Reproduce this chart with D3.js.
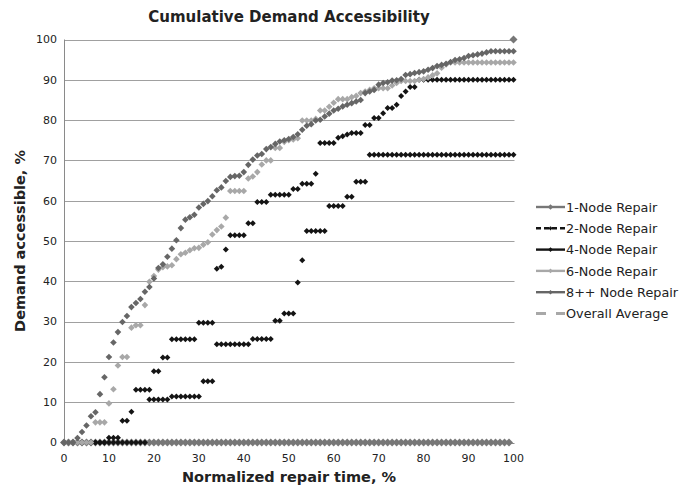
<!DOCTYPE html>
<html>
<head>
<meta charset="utf-8">
<script src="https://cdn.jsdelivr.net/npm/d3@7"></script>
<style>
  body { margin: 0; background: #fff; }
  svg { display: block; }
  text { font-family: "DejaVu Sans", Verdana, sans-serif; }
</style>
</head>
<body>
<svg id="chart" width="692" height="487"></svg>
<script>
// Normalized repair time, % (one sample per percent)
const repairTime = d3.range(0, 101);

// Demand accessible, % for each repair group
const nodeRepair1 = [
  0,0,0,0,0,0,0,0,0,0, 0,0,0,0,0,0,0,0,0,0,
  0,0,0,0,0,0,0,0,0,0, 0,0,0,0,0,0,0,0,0,0,
  0,0,0,0,0,0,0,0,0,0, 0,0,0,0,0,0,0,0,0,0,
  0,0,0,0,0,0,0,0,0,0, 0,0,0,0,0,0,0,0,0,0,
  0,0,0,0,0,0,0,0,0,0, 0,0,0,0,0,0,0,0,0,0,
  100
];

const nodeRepair2 = [
  0,0,0,0,0,0,0,0,0,0, 0,0,0,0,0,0,0,0,0,10.7,
  10.7,10.7,10.7,10.7,11.4,11.4,11.4,11.4,11.4,11.4,
  11.4,15.2,15.2,15.2,24.4,24.4,24.4,24.4,24.4,24.4,
  24.4,24.4,25.7,25.7,25.7,25.7,25.7,30.2,30.2,32.0,
  32.0,32.0,39.7,45.2,52.5,52.5,52.5,52.5,52.5,58.7,
  58.7,58.7,58.7,61.0,61.0,64.7,64.7,64.7,71.4,71.4,
  71.4,71.4,71.4,71.4,71.4,71.4,71.4,71.4,71.4,71.4,
  71.4,71.4,71.4,71.4,71.4,71.4,71.4,71.4,71.4,71.4,
  71.4,71.4,71.4,71.4,71.4,71.4,71.4,71.4,71.4,71.4,
  71.4
];

const nodeRepair4 = [
  0,0,0,0,0,0,0,0,0,0, 1.2,1.2,1.2,5.4,5.4,7.6,13.1,13.1,13.1,13.1,
  17.7,17.7,21.1,21.1,25.6,25.6,25.6,25.6,25.6,25.6,
  29.7,29.7,29.7,29.7,43.1,43.6,47.9,51.4,51.4,51.4,
  51.4,54.4,54.4,59.7,59.7,59.7,61.5,61.5,61.5,61.5,
  61.5,62.9,62.9,64.2,64.2,64.2,66.7,74.3,74.3,74.3,
  74.3,75.6,76.0,76.4,76.8,76.8,76.8,78.8,78.8,80.5,
  80.5,81.7,83.0,83.0,83.8,86.0,87.1,88.2,88.2,90.0,
  90.0,90.0,90.0,90.0,90.0,90.0,90.0,90.0,90.0,90.0,
  90.0,90.0,90.0,90.0,90.0,90.0,90.0,90.0,90.0,90.0,
  90.0
];

const nodeRepair6 = [
  0,0,0,0,0,0,0,5.0,5.0,5.0, 9.7,13.2,19.1,21.2,21.2,28.5,29.1,29.1,34.1,39.9,
  41.3,42.9,43.5,43.7,44.0,45.5,46.7,47.1,47.7,48.2,
  48.3,49.1,49.7,51.6,52.7,53.6,55.8,62.4,62.4,62.4,
  62.4,65.5,66.0,67.1,69.0,70.0,70.0,73.1,73.1,74.6,
  75.0,75.2,75.5,79.9,79.9,79.9,80.3,82.4,82.4,83.3,
  84.3,85.2,85.2,85.2,85.7,86.0,86.7,87.1,87.5,87.9,
  87.9,87.9,87.9,88.6,89.2,89.7,89.7,89.7,89.7,90.0,
  90.2,90.6,91.1,91.6,93.0,93.8,94.3,94.3,94.3,94.3,
  94.3,94.3,94.3,94.3,94.3,94.3,94.3,94.3,94.3,94.3,
  94.3
];

const nodeRepair8 = [
  0,0,0,1.1,2.6,4.2,6.5,7.5,12.0,16.2, 21.2,24.8,27.4,29.9,31.4,33.6,34.6,35.6,37.4,38.6,
  40.7,43.3,44.2,46.1,48.1,50.2,53.2,55.3,55.9,56.5,
  58.3,59.2,59.9,61.1,62.6,63.3,64.9,65.9,66.1,66.2,
  67.1,68.9,70.2,71.2,71.6,72.8,73.3,74.1,74.7,75.0,
  75.3,75.8,76.5,77.6,78.6,79.0,79.9,80.1,80.9,81.6,
  82.4,82.8,83.4,83.8,84.2,84.6,85.0,86.7,87.1,87.5,
  88.8,89.2,89.4,89.8,89.9,90.2,91.2,91.4,91.7,91.9,
  92.1,92.5,92.9,93.4,93.7,94.0,94.4,94.9,95.1,95.4,
  95.9,96.1,96.3,96.5,96.8,97.1,97.1,97.1,97.1,97.1,
  97.1
];

const overallAverage = [];

const xTicks = [0, 10, 20, 30, 40, 50, 60, 70, 80, 90, 100];
const yTicks = [0, 10, 20, 30, 40, 50, 60, 70, 80, 90, 100];

const series = [
  { name: "1-Node Repair",   values: nodeRepair1,   color: "#777777", r: 4.0, lineDash: null,   legendR: 2.8 },
  { name: "2-Node Repair",   values: nodeRepair2,   color: "#141414", r: 3.0, lineDash: "5,3",  legendR: 2.1 },
  { name: "4-Node Repair",   values: nodeRepair4,   color: "#141414", r: 3.0, lineDash: null,   legendR: 2.3 },
  { name: "6-Node Repair",   values: nodeRepair6,   color: "#a8a8a8", r: 3.3, lineDash: null,   legendR: 2.3 },
  { name: "8++ Node Repair", values: nodeRepair8,   color: "#666666", r: 3.3, lineDash: null,   legendR: 2.3 },
  { name: "Overall Average", values: overallAverage, color: "#a8a8a8", r: 0, lineDash: "10,10", legendR: 0 }
];

const svg = d3.select("#chart");
const margin = { left: 64, right: 178, top: 39.5, bottom: 44.5 };
const W = 692, H = 487;

const x = d3.scaleLinear().domain([0, 100]).range([margin.left, 513.5]);
const y = d3.scaleLinear().domain([0, 100]).range([H - margin.bottom, margin.top]);

const diamond = r => `M0,${-r}L${r},0L0,${r}L${-r},0Z`;

// horizontal gridlines
svg.append("g")
  .selectAll("line")
  .data(yTicks.filter(t => t > 0))
  .join("line")
  .attr("x1", x(0)).attr("x2", x(100) + 1)
  .attr("y1", d => Math.round(y(d)) + 0.5)
  .attr("y2", d => Math.round(y(d)) + 0.5)
  .attr("stroke", "#a0a0a0")
  .attr("stroke-width", 1);

// axis lines
svg.append("line")
  .attr("x1", x(0) + 0.5).attr("x2", x(0) + 0.5)
  .attr("y1", y(100)).attr("y2", y(0))
  .attr("stroke", "#8a8a8a");
svg.append("line")
  .attr("x1", x(0)).attr("x2", x(100) + 1)
  .attr("y1", Math.round(y(0)) + 0.5).attr("y2", Math.round(y(0)) + 0.5)
  .attr("stroke", "#8a8a8a");

// tick labels
svg.append("g")
  .selectAll("text")
  .data(xTicks)
  .join("text")
  .attr("x", d => x(d))
  .attr("y", 462)
  .attr("text-anchor", "middle")
  .attr("font-size", 11)
  .attr("fill", "#222")
  .text(d => d);

svg.append("g")
  .selectAll("text")
  .data(yTicks)
  .join("text")
  .attr("x", 57)
  .attr("y", d => y(d))
  .attr("dy", "0.35em")
  .attr("text-anchor", "end")
  .attr("font-size", 11)
  .attr("fill", "#222")
  .text(d => d);

// point markers, drawn series by series
series.forEach(s => {
  if (!s.values.length) return;
  svg.append("g")
    .selectAll("path")
    .data(s.values.map((v, i) => [repairTime[i], v]))
    .join("path")
    .attr("d", diamond(s.r))
    .attr("transform", d => `translate(${x(d[0])},${y(d[1])})`)
    .attr("fill", s.color);
});

// titles
svg.append("text")
  .attr("x", 289).attr("y", 22)
  .attr("text-anchor", "middle")
  .attr("font-size", 15)
  .attr("font-weight", "bold")
  .attr("fill", "#222")
  .text("Cumulative Demand Accessibility");

svg.append("text")
  .attr("x", 289).attr("y", 482)
  .attr("text-anchor", "middle")
  .attr("font-size", 14.5)
  .attr("font-weight", "bold")
  .attr("fill", "#222")
  .text("Normalized repair time, %");

svg.append("text")
  .attr("transform", "translate(25,241) rotate(-90)")
  .attr("text-anchor", "middle")
  .attr("font-size", 14.5)
  .attr("font-weight", "bold")
  .attr("fill", "#222")
  .text("Demand accessible, %");

// legend
const legend = svg.append("g");
series.forEach((s, i) => {
  const ly = 207 + i * 21.3;
  const g = legend.append("g").attr("transform", `translate(0,${ly})`);
  g.append("line")
    .attr("x1", 536).attr("x2", 565)
    .attr("stroke", s.color)
    .attr("stroke-width", s.lineDash === "10,10" ? 3 : 2.4)
    .attr("stroke-dasharray", s.lineDash);
  if (s.legendR > 0) {
    g.append("path")
      .attr("d", diamond(s.legendR))
      .attr("transform", "translate(550.5,0)")
      .attr("fill", s.color);
  }
  g.append("text")
    .attr("x", 566).attr("y", 0)
    .attr("dy", "0.36em")
    .attr("font-size", 12.8)
    .attr("fill", "#222")
    .text(s.name);
});
</script>
</body>
</html>
